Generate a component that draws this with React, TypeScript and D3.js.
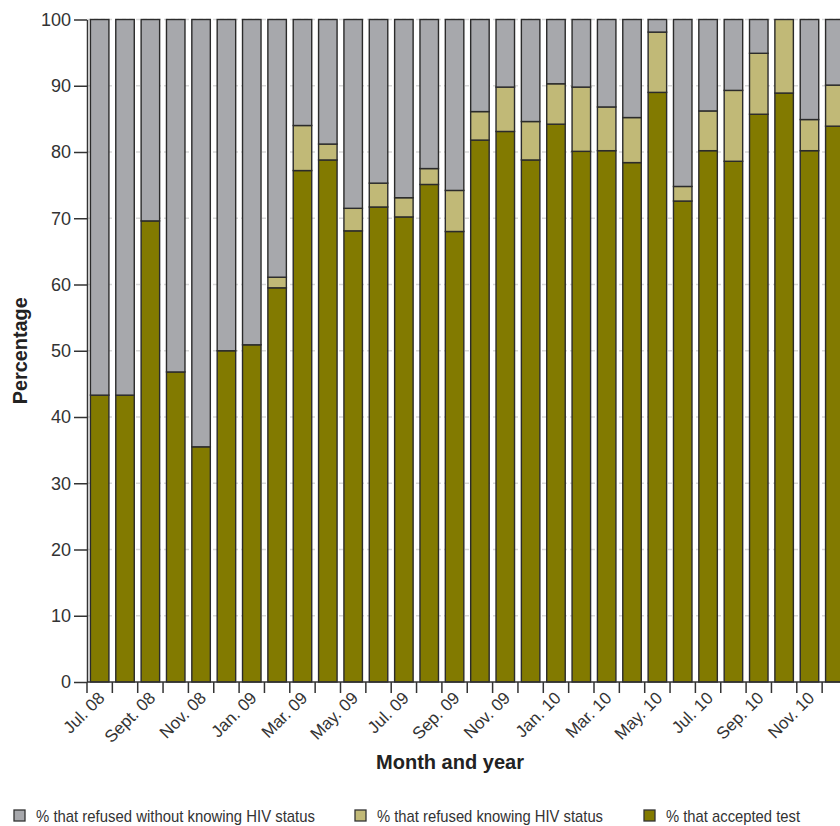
import { useRef, useEffect } from "react";
import * as d3 from "d3";

// months shown on the x axis (Jul 2008 - Dec 2010)
const months = [
  "Jul. 08", "Aug. 08", "Sept. 08", "Oct. 08", "Nov. 08", "Dec. 08",
  "Jan. 09", "Feb. 09", "Mar. 09", "Apr. 09", "May. 09", "Jun. 09",
  "Jul. 09", "Aug. 09", "Sep. 09", "Oct. 09", "Nov. 09", "Dec. 09",
  "Jan. 10", "Feb. 10", "Mar. 10", "Apr. 10", "May. 10", "Jun. 10",
  "Jul. 10", "Aug. 10", "Sep. 10", "Oct. 10", "Nov. 10", "Dec. 10",
];

const accepted = [
  43.3, 43.3, 69.6, 46.8, 35.5, 50.0, 50.9, 59.5, 77.2, 78.8, 68.1, 71.7,
  70.2, 75.1, 68.0, 81.8, 83.1, 78.8, 84.2, 80.1, 80.2, 78.4, 89.0, 72.6,
  80.2, 78.6, 85.7, 88.9, 80.2, 83.9,
];

const refusedKnowing = [
  0, 0, 0, 0, 0, 0, 0, 1.6, 6.8, 2.4, 3.4, 3.6,
  2.9, 2.4, 6.2, 4.3, 6.7, 5.8, 6.1, 9.7, 6.6, 6.8, 9.1, 2.2,
  6.0, 10.7, 9.2, 11.1, 4.7, 6.2,
];

const refusedWithout = accepted.map((a, i) => +(100 - a - refusedKnowing[i]).toFixed(1));

const yTicks = [0, 10, 20, 30, 40, 50, 60, 70, 80, 90, 100];

const seriesKeys = ["accepted", "knowing", "without"];
const seriesLabels: Record<string, string> = {
  without: "% that refused without knowing HIV status",
  knowing: "% that refused knowing HIV status",
  accepted: "% that accepted test",
};
const colors: Record<string, string> = {
  without: "#a7a8ac",
  knowing: "#c1b977",
  accepted: "#827a00",
};

const FONT = "'Liberation Sans Narrow', 'Arial Narrow', 'Liberation Sans', sans-serif";

export default function App() {
  const svgRef = useRef<SVGSVGElement>(null);

  useEffect(() => {
    const svg = d3.select(svgRef.current);
    svg.selectAll("*").remove();

    const left = 87;
    const top = 19.5;
    const bottom = 682;
    const step = 25.35;

    const x = d3
      .scaleBand<string>()
      .domain(months)
      .range([left, left + step * months.length])
      .paddingInner(0.27)
      .paddingOuter(0.135);

    const y = d3.scaleLinear().domain([0, 100]).range([bottom, top]);

    const table = months.map((m, i) => ({
      month: m,
      accepted: accepted[i],
      knowing: refusedKnowing[i],
      without: refusedWithout[i],
    }));

    const stacked = d3.stack<any>().keys(seriesKeys)(table);

    // dashed grid
    svg
      .append("g")
      .selectAll("line")
      .data(yTicks.filter((t) => t > 0))
      .join("line")
      .attr("x1", left)
      .attr("x2", 840)
      .attr("y1", (d) => y(d))
      .attr("y2", (d) => y(d))
      .attr("stroke", "#d9d9d9")
      .attr("stroke-width", 1.5)
      .attr("stroke-dasharray", "4,3");

    // bars
    svg
      .append("g")
      .selectAll("g")
      .data(stacked)
      .join("g")
      .attr("fill", (d) => colors[d.key])
      .selectAll("rect")
      .data((d) => d.filter((p) => p[1] - p[0] > 0))
      .join("rect")
      .attr("x", (d) => x(d.data.month)!)
      .attr("width", x.bandwidth())
      .attr("y", (d) => y(d[1]))
      .attr("height", (d) => y(d[0]) - y(d[1]))
      .attr("stroke", "#2b2b2b")
      .attr("stroke-width", 1.4);

    // y axis
    const yAxis = d3
      .axisLeft(y)
      .tickValues(yTicks)
      .tickSize(13)
      .tickPadding(3)
      .tickSizeOuter(0);
    const gy = svg.append("g").attr("transform", `translate(${left},0)`).call(yAxis);
    gy.select(".domain").attr("stroke", "#333").attr("stroke-width", 1.5);
    gy.selectAll(".tick line").attr("stroke", "#333").attr("stroke-width", 1.5);
    gy.selectAll(".tick text")
      .attr("font-family", FONT)
      .attr("font-size", 18)
      .attr("fill", "#333");

    // x axis: ticks at band boundaries
    const gx = svg.append("g");
    gx.append("line")
      .attr("x1", left)
      .attr("x2", 840)
      .attr("y1", bottom)
      .attr("y2", bottom)
      .attr("stroke", "#333")
      .attr("stroke-width", 1.5);
    gx.selectAll(".bt")
      .data(months)
      .join("line")
      .attr("class", "bt")
      .attr("x1", (d) => x(d)! - (x.step() - x.bandwidth()) / 2)
      .attr("x2", (d) => x(d)! - (x.step() - x.bandwidth()) / 2)
      .attr("y1", bottom)
      .attr("y2", bottom + 11)
      .attr("stroke", "#333")
      .attr("stroke-width", 1.5);
    gx.selectAll("text")
      .data(months.filter((_, i) => i % 2 === 0))
      .join("text")
      .attr(
        "transform",
        (d) => `translate(${x(d)! + x.bandwidth() / 2 + 6},${bottom + 17}) rotate(-45)`
      )
      .attr("text-anchor", "end")
      .attr("font-family", FONT)
      .attr("font-size", 17)
      .attr("fill", "#333")
      .text((d) => d);

    // axis titles
    svg
      .append("text")
      .attr("transform", `translate(27,${(top + bottom) / 2}) rotate(-90)`)
      .attr("text-anchor", "middle")
      .attr("font-family", FONT)
      .attr("font-weight", "bold")
      .attr("font-size", 21)
      .attr("fill", "#222")
      .attr("textLength", 107)
      .attr("lengthAdjust", "spacingAndGlyphs")
      .text("Percentage");

    svg
      .append("text")
      .attr("x", 450)
      .attr("y", 769)
      .attr("text-anchor", "middle")
      .attr("font-family", FONT)
      .attr("font-weight", "bold")
      .attr("font-size", 21)
      .attr("fill", "#222")
      .attr("textLength", 148)
      .attr("lengthAdjust", "spacingAndGlyphs")
      .text("Month and year");

    // legend
    const legendItems = [
      { key: "without", x: 14, w: 279 },
      { key: "knowing", x: 355, w: 226 },
      { key: "accepted", x: 644, w: 134 },
    ];
    const lg = svg
      .append("g")
      .selectAll("g")
      .data(legendItems)
      .join("g")
      .attr("transform", (d) => `translate(${d.x},810)`);
    lg.append("rect")
      .attr("width", 11)
      .attr("height", 11)
      .attr("fill", (d) => colors[d.key])
      .attr("stroke", "#333")
      .attr("stroke-width", 1.3);
    lg.append("text")
      .attr("x", 22)
      .attr("y", 12)
      .attr("font-family", FONT)
      .attr("font-size", 17)
      .attr("fill", "#333")
      .attr("textLength", (d) => d.w)
      .attr("lengthAdjust", "spacingAndGlyphs")
      .text((d) => seriesLabels[d.key]);
  }, []);

  return (
    <svg
      ref={svgRef}
      width={840}
      height={826}
      style={{ position: "absolute", left: 0, top: 0, overflow: "hidden", background: "#fff" }}
    />
  );
}
